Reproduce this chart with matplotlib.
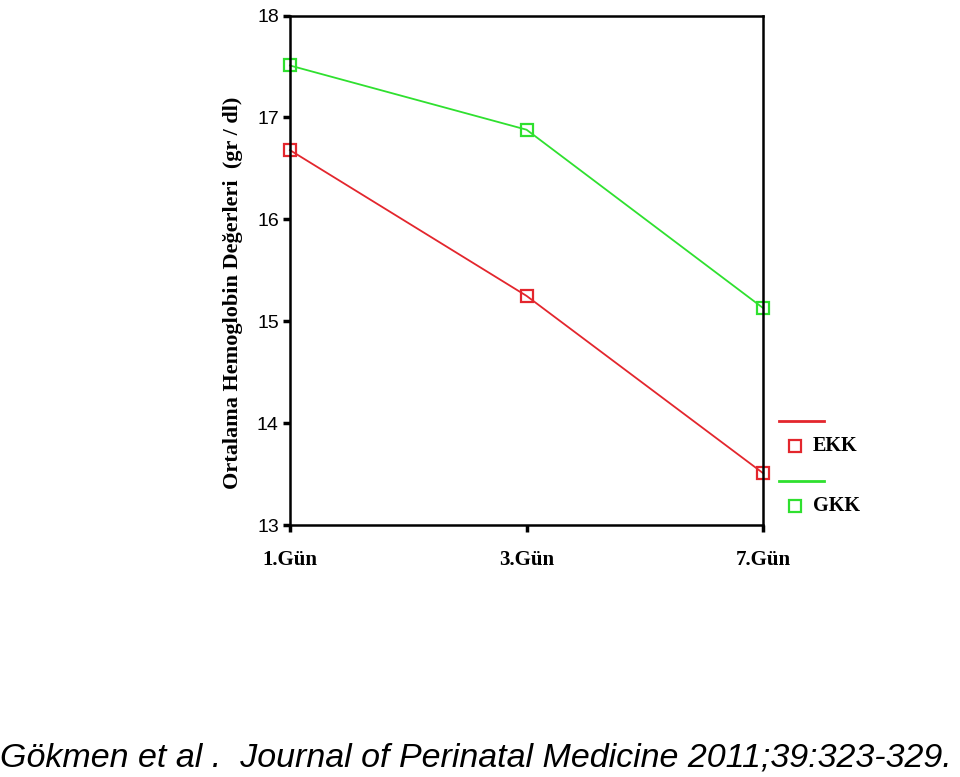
import matplotlib.pyplot as plt
from matplotlib.lines import Line2D

days = ['1.Gün', '3.Gün', '7.Gün']
ekk = [16.68, 15.25, 13.51]
gkk = [17.51, 16.88, 15.13]
yticks = [13, 14, 15, 16, 17, 18]

RED = '#e3262d'
GREEN = '#2fe02f'

fig = plt.figure(figsize=(9.6, 7.77), dpi=100)
ax = fig.add_axes([0.302, 0.324, 0.493, 0.656])

x = range(len(days))
ax.plot(x, ekk, color=RED, lw=1.3, marker='s', ms=9, mfc='none', mec=RED, mew=1.6, clip_on=False)
ax.plot(x, gkk, color=GREEN, lw=1.3, marker='s', ms=9, mfc='none', mec=GREEN, mew=1.6, clip_on=False)

ax.set_xlim(0, len(days) - 1)
ax.set_ylim(13, 18)
ax.set_xticks(list(x))
ax.set_xticklabels(days, fontfamily='Liberation Serif', fontweight='bold', fontsize=15)
ax.set_yticks(yticks)
ax.set_yticklabels([str(t) for t in yticks], fontfamily='Liberation Sans', fontsize=14)
ax.tick_params(axis='both', direction='out', length=5, width=2.5, color='black')
ax.tick_params(axis='x', pad=13)
ax.tick_params(axis='y', pad=3)
for s in ax.spines.values():
    s.set_linewidth(1.8)
    s.set_color('black')

ax.set_ylabel('Ortalama Hemoglobin Değerleri  (gr / dl)', fontfamily='Liberation Serif',
              fontweight='bold', fontsize=16)
ax.yaxis.set_label_coords(-0.100, 0.457)

# legend, SPSS style: line above each marker
for y_line, y_mark, col, name in [(0.458, 0.426, RED, 'EKK'), (0.381, 0.349, GREEN, 'GKK')]:
    fig.add_artist(Line2D([0.811, 0.858], [y_line, y_line], color=col, lw=2))
    fig.add_artist(Line2D([0.828], [y_mark], marker='s', ms=9, mfc='none', mec=col, mew=1.6))
    fig.text(0.847, y_mark, name, fontfamily='Liberation Serif', fontweight='bold',
             fontsize=14.5, va='center', ha='left')

fig.text(0.0, 0.024, 'Gökmen et al .  Journal of Perinatal Medicine 2011;39:323-329.',
         fontfamily='Liberation Sans', fontstyle='italic', fontsize=24.5, va='center', ha='left')

fig.savefig('out.png', dpi=100)
